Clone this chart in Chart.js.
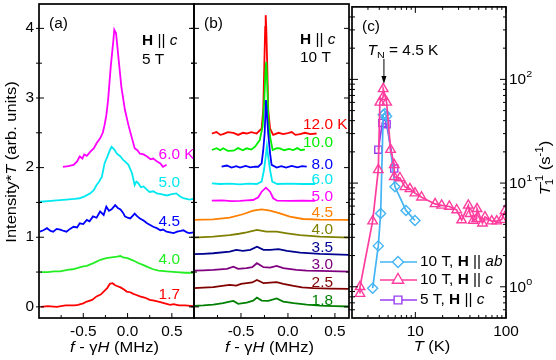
<!DOCTYPE html>
<html>
<head>
<meta charset="utf-8">
<title>NMR spectra and 1/T1</title>
<script src="https://cdn.jsdelivr.net/npm/chart.js@4.4.1/dist/chart.umd.min.js"></script>
<style>
  body { margin: 0; background: #fff; }
  #wrap { position: relative; width: 556px; height: 360px; }
  #wrap canvas { position: absolute; left: 0; top: 0; }
</style>
</head>
<body>
<div id="wrap">
  <canvas id="panelA" width="556" height="360"></canvas>
  <canvas id="panelB" width="556" height="360"></canvas>
  <canvas id="panelC" width="556" height="360"></canvas>
</div>
<script>
// ---- panel (a): 5 T, H || c, spectra [f - gH (MHz), Intensity*T + offset]
const a17 = [[-0.98,0.0],[-0.9,0.01],[-0.8,0.0],[-0.7,0.02],[-0.6,0.02],[-0.56,0.03],[-0.5,0.05],[-0.46,0.076],[-0.4,0.1],[-0.35,0.15],[-0.3,0.18],[-0.27,0.22],[-0.23,0.27],[-0.2,0.33],[-0.17,0.34],[-0.14,0.31],[-0.12,0.3],[-0.08,0.28],[-0.04,0.25],[-0.01,0.22],[0.03,0.21],[0.065,0.187],[0.1,0.17],[0.14,0.15],[0.2,0.13],[0.25,0.1],[0.3,0.09],[0.37,0.067],[0.42,0.05],[0.48,0.03],[0.52,0.04],[0.58,0.02],[0.65,0.02],[0.74,0.01]];
const a40 = [[-0.98,0.5],[-0.9,0.5],[-0.83,0.51],[-0.76,0.51],[-0.68,0.53],[-0.62,0.54],[-0.57,0.555],[-0.5,0.58],[-0.46,0.59],[-0.4,0.62],[-0.35,0.65],[-0.3,0.68],[-0.24,0.7],[-0.18,0.71],[-0.12,0.72],[-0.08,0.73],[-0.05,0.71],[0.0,0.7],[0.065,0.665],[0.12,0.63],[0.18,0.6],[0.23,0.57],[0.29,0.54],[0.35,0.52],[0.44,0.51],[0.55,0.5],[0.65,0.49],[0.74,0.49]];
const a45 = [[-0.99,1.08],[-0.95,1.1],[-0.91,1.13],[-0.87,1.09],[-0.84,1.08],[-0.8,1.12],[-0.76,1.11],[-0.72,1.09],[-0.69,1.08],[-0.65,1.12],[-0.61,1.15],[-0.57,1.14],[-0.54,1.2],[-0.5,1.19],[-0.46,1.25],[-0.43,1.23],[-0.39,1.3],[-0.35,1.28],[-0.31,1.37],[-0.27,1.32],[-0.24,1.44],[-0.21,1.38],[-0.18,1.4],[-0.14,1.46],[-0.11,1.42],[-0.08,1.4],[-0.05,1.35],[-0.03,1.3],[0.0,1.28],[0.03,1.27],[0.06,1.31],[0.08,1.34],[0.11,1.3],[0.14,1.27],[0.18,1.24],[0.22,1.2],[0.25,1.18],[0.29,1.15],[0.33,1.13],[0.37,1.1],[0.4,1.11],[0.44,1.08],[0.48,1.07],[0.52,1.06],[0.56,1.08],[0.6,1.09],[0.63,1.1],[0.67,1.07],[0.7,1.06],[0.74,1.07]];
const a50 = [[-0.99,1.51],[-0.9,1.52],[-0.8,1.53],[-0.69,1.54],[-0.6,1.55],[-0.54,1.56],[-0.48,1.59],[-0.42,1.63],[-0.38,1.68],[-0.35,1.75],[-0.32,1.8],[-0.29,1.87],[-0.26,2.06],[-0.23,2.15],[-0.2,2.25],[-0.18,2.3],[-0.15,2.26],[-0.12,2.2],[-0.08,2.16],[-0.05,2.11],[-0.02,2.08],[0.01,2.04],[0.05,1.92],[0.08,1.75],[0.1,1.8],[0.12,1.78],[0.15,1.72],[0.18,1.73],[0.22,1.68],[0.25,1.65],[0.29,1.66],[0.33,1.63],[0.38,1.62],[0.44,1.6],[0.5,1.62],[0.55,1.63],[0.59,1.59],[0.63,1.56],[0.7,1.54],[0.74,1.55]];
const a60 = [[-0.73,2.01],[-0.67,2.02],[-0.61,2.04],[-0.57,2.09],[-0.54,2.16],[-0.51,2.13],[-0.49,2.19],[-0.46,2.17],[-0.42,2.23],[-0.38,2.28],[-0.35,2.35],[-0.31,2.42],[-0.28,2.5],[-0.26,2.61],[-0.24,2.75],[-0.22,2.97],[-0.19,3.45],[-0.16,3.83],[-0.15,3.98],[-0.13,3.93],[-0.1,3.54],[-0.07,3.16],[-0.03,2.83],[0.01,2.61],[0.05,2.42],[0.08,2.28],[0.11,2.25],[0.14,2.2],[0.18,2.19],[0.22,2.16],[0.26,2.12],[0.29,2.13],[0.33,2.09],[0.37,2.06],[0.4,2.01],[0.44,2.04]];
const seriesA = [a17, a40, a45, a50, a60];
const tempsA = ['1.7', '4.0', '4.5', '5.0', '6.0'];
const colorsA = ['#ff0000', '#22ee22', '#0000ff', '#00e8f0', '#ff00ff'];
const labelYA = [0.17, 0.675, 1.22, 1.78, 2.18];

// ---- panel (b): 10 T, H || c
const b18 = [[-1.01,0.014],[-0.9,0.02],[-0.795,0.033],[-0.69,0.053],[-0.62,0.076],[-0.58,0.086],[-0.53,0.043],[-0.44,0.062],[-0.37,0.09],[-0.33,0.134],[-0.28,0.09],[-0.21,0.086],[-0.12,0.12],[-0.05,0.076],[0.06,0.053],[0.2,0.033],[0.34,0.019],[0.5,0.01],[0.66,0.005]];
const b25 = [[-1.01,0.268],[-0.9,0.275],[-0.795,0.282],[-0.7,0.3],[-0.62,0.316],[-0.55,0.306],[-0.5,0.33],[-0.44,0.34],[-0.38,0.35],[-0.33,0.387],[-0.29,0.36],[-0.26,0.34],[-0.19,0.349],[-0.12,0.354],[-0.05,0.33],[0.06,0.3],[0.15,0.28],[0.27,0.268],[0.45,0.262],[0.66,0.258]];
const b30 = [[-1.01,0.52],[-0.9,0.525],[-0.795,0.53],[-0.65,0.545],[-0.58,0.578],[-0.53,0.545],[-0.44,0.555],[-0.38,0.57],[-0.33,0.627],[-0.26,0.57],[-0.19,0.564],[-0.12,0.588],[-0.05,0.555],[0.09,0.53],[0.2,0.52],[0.34,0.516],[0.66,0.507]];
const b35 = [[-1.01,0.756],[-0.9,0.762],[-0.795,0.77],[-0.62,0.794],[-0.55,0.818],[-0.48,0.803],[-0.4,0.818],[-0.33,0.865],[-0.26,0.818],[-0.19,0.818],[-0.1,0.828],[-0.01,0.803],[0.13,0.78],[0.34,0.76],[0.66,0.746]];
const b40 = [[-1.01,0.995],[-0.795,1.01],[-0.62,1.03],[-0.52,1.05],[-0.44,1.07],[-0.33,1.105],[-0.23,1.08],[-0.12,1.08],[-0.01,1.057],[0.13,1.03],[0.34,1.01],[0.66,0.995]];
const b45 = [[-1.01,1.248],[-0.795,1.258],[-0.62,1.282],[-0.48,1.33],[-0.37,1.382],[-0.28,1.4],[-0.19,1.382],[-0.085,1.344],[0.02,1.296],[0.16,1.262],[0.34,1.253],[0.66,1.248]];
const b50 = [[-0.81,1.525],[-0.7,1.53],[-0.6,1.52],[-0.51,1.521],[-0.44,1.53],[-0.37,1.535],[-0.316,1.574],[-0.28,1.654],[-0.234,1.712],[-0.19,1.654],[-0.157,1.56],[-0.114,1.525],[0.02,1.521],[0.15,1.525],[0.29,1.521]];
const b60 = [[-0.81,1.775],[-0.72,1.765],[-0.62,1.77],[-0.51,1.76],[-0.42,1.77],[-0.333,1.765],[-0.28,1.798],[-0.255,1.965],[-0.237,2.156],[-0.224,2.31],[-0.21,2.156],[-0.19,1.965],[-0.167,1.798],[-0.114,1.765],[0.0,1.77],[0.15,1.765],[0.29,1.765]];
const b80 = [[-0.706,2.013],[-0.65,2.03],[-0.6,2.0],[-0.55,2.02],[-0.51,2.0],[-0.45,2.025],[-0.4,2.005],[-0.35,2.015],[-0.316,2.013],[-0.28,2.06],[-0.263,2.25],[-0.248,2.49],[-0.234,2.97],[-0.21,2.49],[-0.19,2.2],[-0.174,2.04],[-0.12,2.0],[-0.07,2.02],[-0.02,2.0],[0.04,2.025],[0.1,2.005],[0.15,2.02],[0.2,2.013]];
const b100 = [[-0.81,2.253],[-0.76,2.28],[-0.72,2.25],[-0.69,2.277],[-0.64,2.24],[-0.58,2.243],[-0.53,2.28],[-0.48,2.25],[-0.44,2.277],[-0.39,2.26],[-0.35,2.3],[-0.3,2.396],[-0.27,2.587],[-0.252,2.97],[-0.237,3.45],[-0.231,3.52],[-0.22,3.21],[-0.21,2.73],[-0.19,2.44],[-0.163,2.253],[-0.12,2.28],[-0.085,2.277],[-0.04,2.25],[0.01,2.27],[0.056,2.253],[0.1,2.28],[0.14,2.25],[0.18,2.263]];
const b120 = [[-0.81,2.49],[-0.76,2.51],[-0.72,2.47],[-0.69,2.48],[-0.64,2.51],[-0.58,2.5],[-0.53,2.47],[-0.48,2.5],[-0.44,2.49],[-0.39,2.51],[-0.333,2.49],[-0.28,2.56],[-0.263,2.83],[-0.252,3.45],[-0.242,4.02],[-0.237,4.19],[-0.231,4.02],[-0.22,3.45],[-0.21,2.83],[-0.19,2.56],[-0.157,2.47],[-0.1,2.5],[-0.05,2.48],[-0.014,2.49],[0.04,2.51],[0.08,2.47],[0.13,2.48],[0.18,2.5],[0.24,2.48],[0.305,2.49]];
const seriesB = [b18, b25, b30, b35, b40, b45, b50, b60, b80, b100, b120];
const tempsB = ['1.8', '2.5', '3.0', '3.5', '4.0', '4.5', '5.0', '6.0', '8.0', '10.0', '12.0'];
const colorsB = ['#008000', '#800000', '#800080', '#000090', '#808000', '#ff8000', '#ff00ff', '#00e8f0', '#0000ff', '#00ee00', '#ff0000'];
const labelYB = [0.086, 0.344, 0.602, 0.846, 1.105, 1.35, 1.58, 1.82, 2.04, 2.35, 2.61];

const spectraTicksY = [0, 1, 2, 3, 4];

// ---- panel (c): 1/T1 (s^-1) vs T (K)
const t1AB10 = [[3.38,0.97],[3.9,2.48],[4.14,5.1],[4.42,45.6],[4.6,47],[4.82,44],[5.96,9.2],[7.88,5.45],[9.9,4.36]];
const t1C10 = [[2.45,0.86],[2.45,1.0],[3.38,4.3],[3.9,13.4],[4.06,60],[4.42,68],[4.42,81],[4.82,60],[5.33,21],[5.85,15],[5.85,11.5],[6.76,11.2],[7.68,9.2],[8.71,8.8],[9.9,8.0],[11.7,7.3],[16.5,6.3],[19.5,6.1],[23.7,5.95],[28.6,5.5],[32.4,4.4],[38.4,6.1],[40.2,5.06],[43.5,4.36],[47.4,4.53],[47.9,5.65],[55,4.1],[58.6,4.7],[69.5,4.3],[79,4.3],[89.6,4.44],[97.5,5.4]];
const t1C5 = [[3.9,21],[4.32,38],[4.82,37],[5.85,13.8]];
const tickT = [10, 100];
const tickRate = [1, 10, 100];

const SX = 1.1;
const FONT = '"Liberation Sans", Arial, sans-serif';

// text with italic/bold/sub/sup parts; '0' in a style means no advance
function rich(ctx, parts, x, y, opt) {
  opt = opt || {};
  const size = opt.size || 14;
  ctx.save();
  ctx.translate(x, y);
  if (opt.rot) ctx.rotate(opt.rot);
  ctx.scale(SX, 1);
  ctx.fillStyle = opt.color || '#000';
  ctx.textBaseline = 'middle';
  ctx.textAlign = 'left';
  const font = s => {
    const small = s.includes('_') || s.includes('^');
    return (s.includes('i') ? 'italic ' : '') + (s.includes('b') ? 'bold ' : '') +
      (small ? size * 0.7 : size) + 'px ' + FONT;
  };
  let w = 0;
  parts.forEach(([t, s = '']) => { ctx.font = font(s); if (!s.includes('0')) w += ctx.measureText(t).width; });
  let cx = opt.align === 'center' ? -w / 2 : opt.align === 'right' ? -w : 0;
  parts.forEach(([t, s = '']) => {
    ctx.font = font(s);
    const dy = s.includes('_') ? size * 0.3 : s.includes('^') ? -size * 0.4 : 0;
    ctx.fillText(t, cx, dy);
    if (!s.includes('0')) cx += ctx.measureText(t).width;
  });
  ctx.restore();
}

function tickLines(chart, axis, vals, len, sides) {
  const { ctx, chartArea: a } = chart;
  const sc = chart.scales[axis];
  ctx.save();
  ctx.strokeStyle = '#000';
  ctx.lineWidth = 1;
  ctx.beginPath();
  vals.forEach(v => {
    const p = sc.getPixelForValue(v);
    if (axis === 'x') {
      if (sides.includes('b')) { ctx.moveTo(p, a.bottom); ctx.lineTo(p, a.bottom - len); }
      if (sides.includes('t')) { ctx.moveTo(p, a.top); ctx.lineTo(p, a.top + len); }
    } else {
      if (sides.includes('l')) { ctx.moveTo(a.left - 3, p); ctx.lineTo(a.left + len, p); }
      if (sides.includes('r')) { ctx.moveTo(a.right, p); ctx.lineTo(a.right - len, p); }
    }
  });
  ctx.stroke();
  ctx.restore();
}

function box(chart) {
  const { ctx, chartArea: a } = chart;
  ctx.save();
  ctx.strokeStyle = '#000';
  ctx.lineWidth = 1.7;
  ctx.strokeRect(a.left, a.top, a.right - a.left, a.bottom - a.top);
  ctx.restore();
}

const fTitle = [['f', 'i'], [' - \u03b3'], ['H', 'i'], [' (MHz)']];
const hParC = [['H', 'b'], [' || '], ['c', 'i']];

function spectraFrame(chart, xMajor, xMinor) {
  const { ctx, chartArea: a, scales: { x } } = chart;
  box(chart);
  tickLines(chart, 'x', xMajor, 5, 'b');
  tickLines(chart, 'x', xMinor, 3, 'b');
  tickLines(chart, 'y', spectraTicksY, 5, 'lr');
  tickLines(chart, 'y', [0.5, 1.5, 2.5, 3.5], 3, 'lr');
  xMajor.forEach(v => rich(ctx, [[v.toFixed(1)]], x.getPixelForValue(v), 332, { align: 'center' }));
  rich(ctx, fTitle, (a.left + a.right) / 2 - 2, 348, { align: 'center', size: 15 });
}

function tempLabels(chart, temps, colors, ly, xr, unitAt) {
  const { ctx, scales: { y } } = chart;
  temps.forEach((t, i) => {
    const py = y.getPixelForValue(ly[i]);
    rich(ctx, [[t]], xr, py, { align: 'right', color: colors[i] });
    if (i === unitAt) rich(ctx, [[' K']], xr, py, { color: colors[i] });
  });
}

function drawA(chart) {
  const { ctx, chartArea: a, scales: { y } } = chart;
  spectraFrame(chart, [-0.5, 0, 0.5], [-0.75, -0.25, 0.25]);
  spectraTicksY.forEach(v => rich(ctx, [[String(v)]], a.left - 5, y.getPixelForValue(v), { align: 'right' }));
  rich(ctx, [['Intensity*'], ['T', 'i'], [' (arb. units)']], 12, 162, { align: 'center', size: 15, rot: -Math.PI / 2 });
  rich(ctx, [['(a)']], a.left + 10, a.top + 20);
  rich(ctx, hParC, a.left + 103, a.top + 37);
  rich(ctx, [['5 T']], a.left + 103, a.top + 56);
  tempLabels(chart, tempsA, colorsA, labelYA, a.left + 141, tempsA.length - 1);
}

function drawB(chart) {
  const { chartArea: a, ctx } = chart;
  spectraFrame(chart, [-0.5, 0, 0.5], [-0.75, -0.25, 0.25]);
  rich(ctx, [['(b)']], a.left + 10, a.top + 20);
  rich(ctx, hParC, a.left + 106, a.top + 36);
  rich(ctx, [['10 T']], a.left + 106, a.top + 54);
  tempLabels(chart, tempsB, colorsB, labelYB, a.left + 139, tempsB.length - 1);
}

function marker(ctx, style, cx, cy, r, color) {
  ctx.save();
  ctx.strokeStyle = color;
  ctx.lineWidth = 1.4;
  ctx.beginPath();
  if (style === 'triangle') {
    ctx.moveTo(cx, cy - r); ctx.lineTo(cx + r * 0.87, cy + r * 0.5); ctx.lineTo(cx - r * 0.87, cy + r * 0.5); ctx.closePath();
  } else if (style === 'rectRot') {
    ctx.moveTo(cx, cy - r); ctx.lineTo(cx + r, cy); ctx.lineTo(cx, cy + r); ctx.lineTo(cx - r, cy); ctx.closePath();
  } else {
    const h = r * 0.71;
    ctx.rect(cx - h, cy - h, 2 * h, 2 * h);
  }
  ctx.fillStyle = '#fff';
  ctx.fill();
  ctx.stroke();
  ctx.restore();
}

const legendC = [
  { parts: [['10 T, '], ['H', 'b'], [' || '], ['ab', 'i']], color: '#44b4f4', style: 'rectRot', r: 5.5, dy: 56 },
  { parts: [['10 T, '], ['H', 'b'], [' || '], ['c', 'i']], color: '#ff3d9e', style: 'triangle', r: 6.5, dy: 38 },
  { parts: [['5 T, '], ['H', 'b'], [' || '], ['c', 'i']], color: '#9a3cf0', style: 'rect', r: 5.5, dy: 18 }
];

function drawC(chart) {
  const { ctx, chartArea: a, scales: { x, y } } = chart;
  box(chart);
  const minorT = [3, 4, 5, 6, 7, 8, 9, 20, 30, 40, 50, 60, 70, 80, 90];
  const minorR = [0.6, 0.7, 0.8, 0.9, 2, 3, 4, 5, 6, 7, 8, 9, 20, 30, 40, 50, 60, 70, 80, 90, 200, 300, 400];
  tickLines(chart, 'x', tickT, 6, 'bt');
  tickLines(chart, 'x', minorT, 3, 'bt');
  tickLines(chart, 'y', tickRate, 6, 'lr');
  tickLines(chart, 'y', minorR, 3, 'lr');
  tickT.forEach(v => rich(ctx, [[String(v)]], x.getPixelForValue(v), 332, { align: 'center' }));
  tickRate.forEach(v => rich(ctx, [['10'], [String(Math.round(Math.log10(v))), '^']], a.right + 3, y.getPixelForValue(v) + 1));
  rich(ctx, [['T', 'i'], [' (K)']], (a.left + a.right) / 2 + 3, 347, { align: 'center', size: 15 });
  rich(ctx, [['T', 'i'], ['1', '_0'], ['-1', '^'], [' (s'], ['-1', '^'], [')']], 546, 168,
    { align: 'center', size: 15, rot: -Math.PI / 2 });
  rich(ctx, [['(c)']], a.left + 10, a.top + 20);

  // T_N arrow
  const px = x.getPixelForValue(4.5);
  rich(ctx, [['T', 'i'], ['N', '_'], [' = 4.5 K']], px + 19, a.top + 44, { align: 'center' });
  ctx.save();
  ctx.strokeStyle = '#000';
  ctx.fillStyle = '#000';
  ctx.lineWidth = 1;
  ctx.beginPath();
  ctx.moveTo(px, a.top + 52);
  ctx.lineTo(px, a.top + 72);
  ctx.stroke();
  ctx.beginPath();
  ctx.moveTo(px - 2.5, a.top + 69);
  ctx.lineTo(px + 2.5, a.top + 69);
  ctx.lineTo(px, a.top + 77);
  ctx.closePath();
  ctx.fill();
  ctx.restore();

  // legend
  legendC.forEach(e => {
    const ly = a.bottom - e.dy;
    ctx.save();
    ctx.strokeStyle = e.color;
    ctx.lineWidth = 1.7;
    ctx.beginPath();
    ctx.moveTo(a.left + 28, ly);
    ctx.lineTo(a.left + 65, ly);
    ctx.stroke();
    ctx.restore();
    marker(ctx, e.style, a.left + 46, ly, e.r, e.color);
    rich(ctx, e.parts, a.left + 68, ly);
  });
}

const Y_MIN = -0.16, Y_MAX = 4.35;

function baseOptions(pad, xScale, yScale) {
  return {
    responsive: false,
    animation: false,
    events: [],
    layout: { padding: pad },
    plugins: { legend: { display: false }, tooltip: { enabled: false } },
    scales: { x: Object.assign({ display: false }, xScale), y: Object.assign({ display: false }, yScale) }
  };
}

function spectraChart(id, series, colors, xMax, pad, draw) {
  return new Chart(document.getElementById(id), {
    type: 'scatter',
    data: {
      datasets: series.map((s, i) => ({
        data: s.map(p => ({ x: p[0], y: p[1] })),
        borderColor: colors[i],
        borderWidth: 1.8,
        showLine: true,
        pointRadius: 0,
        tension: 0
      }))
    },
    options: baseOptions(pad, { type: 'linear', min: -1.0, max: xMax }, { type: 'linear', min: Y_MIN, max: Y_MAX }),
    plugins: [{ id: 'deco', afterDraw: draw }]
  });
}

spectraChart('panelA', seriesA, colorsA, 0.75, { left: 39, top: 4, right: 362, bottom: 42 }, drawA);
spectraChart('panelB', seriesB, colorsB, 0.65, { left: 194, top: 4, right: 207, bottom: 42 }, drawB);

const rateSet = (data, color, style, r) => ({
  data: data.map(p => ({ x: p[0], y: p[1] })),
  borderColor: color,
  backgroundColor: 'rgba(255,255,255,0)',
  borderWidth: 1.7,
  showLine: true,
  pointStyle: style,
  pointRadius: r,
  pointBorderWidth: 1.4,
  pointBorderColor: color,
  pointBackgroundColor: 'rgba(255,255,255,0)'
});

new Chart(document.getElementById('panelC'), {
  type: 'scatter',
  data: {
    datasets: [
      rateSet(t1C10, '#ff3d9e', 'triangle', 5.5),
      rateSet(t1AB10, '#44b4f4', 'rectRot', 5),
      rateSet(t1C5, '#9a3cf0', 'rect', 5)
    ]
  },
  options: baseOptions({ left: 352, top: 4, right: 50, bottom: 42 },
    { type: 'logarithmic', min: 2, max: 100 },
    { type: 'logarithmic', min: 0.5, max: 500 }),
  plugins: [{ id: 'decoC', afterDraw: drawC }]
});
</script>
</body>
</html>
